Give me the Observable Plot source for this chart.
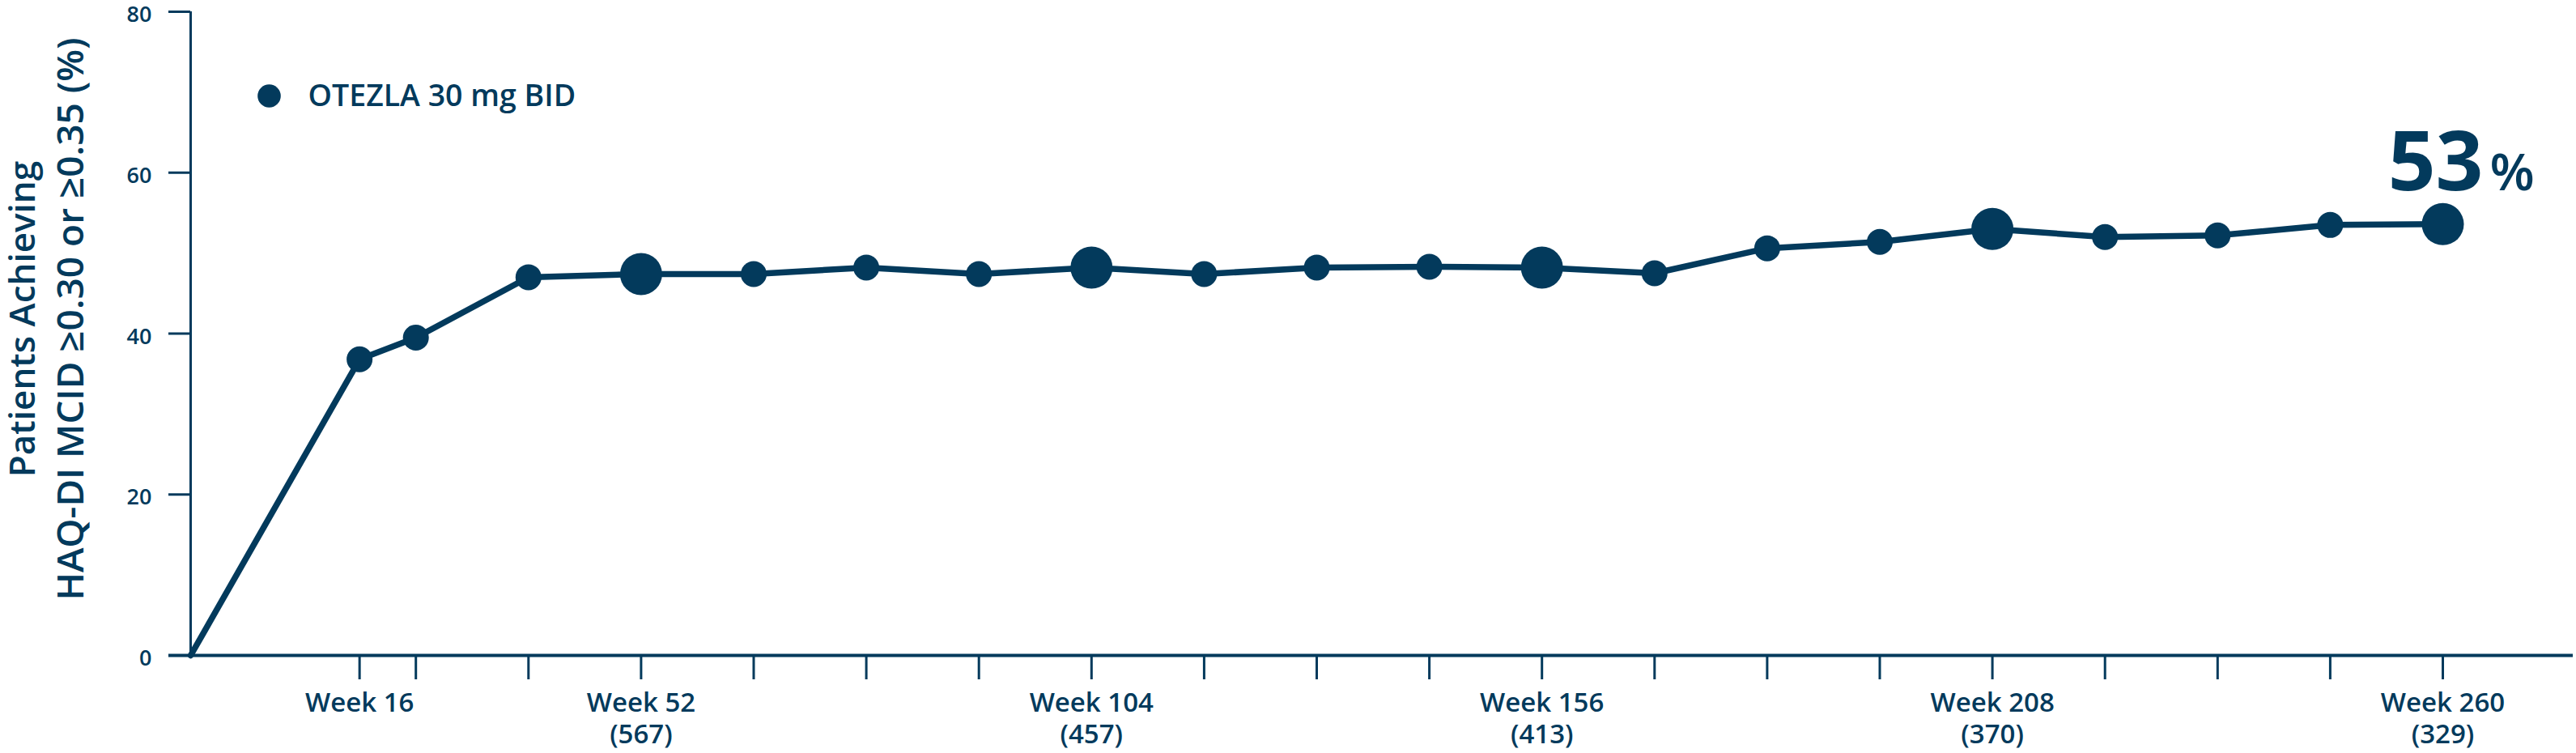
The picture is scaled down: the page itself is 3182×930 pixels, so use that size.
<!DOCTYPE html>
<html>
<head>
<meta charset="utf-8">
<script src="https://cdn.jsdelivr.net/npm/d3@7"></script>
<script src="https://cdn.jsdelivr.net/npm/@observablehq/plot@0.6"></script>
<style>
  html, body { margin: 0; padding: 0; background: #ffffff; }
  #chart svg { display: block; }
</style>
</head>
<body>
<div id="chart"></div>
<script>
// ---- data ----
const weeks    = [0, 16, 24, 40, 52, 65, 78, 91, 104, 117, 130, 143, 156, 169, 182, 195, 208, 221, 234, 247, 260];
const percents = [0, 36.8, 39.5, 47.0, 47.4, 47.4, 48.2, 47.4, 48.2, 47.4, 48.2, 48.3, 48.2, 47.5, 50.6, 51.4, 53.0, 52.0, 52.2, 53.5, 53.6];
const labeledWeeks   = [16, 52, 104, 156, 208, 260];
const patientNWeeks  = [52, 104, 156, 208, 260];
const patientNs      = [567, 457, 413, 370, 329];
const highlightWeeks = [52, 104, 156, 208, 260];
const yTicks = [0, 20, 40, 60, 80];
const seriesName = "OTEZLA 30 mg BID";
const yTitleLines = ["Patients Achieving", "HAQ-DI MCID \u22650.30 or \u22650.35 (%)"];
const finalValueText = "53";
const finalUnitText = "%";

// ---- chart ----
const navy = "#033a5c";
const font = "'Open Sans', 'Noto Sans', sans-serif";
const W = 3182, H = 930;
const mLeft = 235, mRight = 4, mTop = 14, mBottom = 121;

const data = weeks.map((w, i) => ({week: w, pct: percents[i]}));
const visits = data.filter(d => d.week > 0);
const big = visits.filter(d => highlightWeeks.includes(d.week));
const small = visits.filter(d => !highlightWeeks.includes(d.week));
const last = [data[data.length - 1]];

// the reference draws its visit axis unevenly: early visits are compressed,
// later visits (every 13 weeks) are evenly spaced
const stepPx = 139.1;
const xDomain = [0, 16, 24, 40, 52, 260, 275];
const xSteps  = [0, 1.5, 2, 3, 4, 20, 21.154];

function tickLabel(w) {
  if (!labeledWeeks.includes(w)) return "";
  const k = patientNWeeks.indexOf(w);
  return k >= 0 ? `Week ${w}\n(${patientNs[k]})` : `Week ${w}`;
}

const chart = Plot.plot({
  width: W,
  height: H,
  marginLeft: mLeft,
  marginRight: mRight,
  marginTop: mTop,
  marginBottom: mBottom,
  style: {fontFamily: font, fontWeight: 600, color: navy, background: "#ffffff", overflow: "visible"},
  x: {type: "linear", domain: xDomain, range: xSteps.map(s => mLeft + s * stepPx)},
  y: {domain: [0, 80]},
  marks: [
    // axis lines
    Plot.ruleY([0], {stroke: navy, strokeWidth: 4, insetLeft: -27}),
    Plot.ruleX([0], {y1: 0, y2: 80, stroke: navy, strokeWidth: 3}),
    // y ticks (no text)
    Plot.axisY({
      ticks: yTicks, tickSize: 27, stroke: navy, strokeWidth: 3,
      tickFormat: () => "", label: null
    }),
    // y tick labels (no tick lines)
    Plot.axisY({
      ticks: yTicks, tickSize: 0, tickPadding: 48, fill: navy, dy: 4,
      fontSize: 27, fontWeight: 600, label: null
    }),
    Plot.axisX({
      ticks: weeks.slice(1), tickSize: 30, tickPadding: 11, stroke: navy, fill: navy,
      strokeWidth: 3, fontSize: 33, fontWeight: 600, lineHeight: 1.2,
      tickFormat: tickLabel, label: null
    }),
    // series
    Plot.line(data, {x: "week", y: "pct", stroke: navy, strokeWidth: 7.5, strokeLinejoin: "round"}),
    Plot.dot(small, {x: "week", y: "pct", r: 16, fill: navy, stroke: null}),
    Plot.dot(big, {x: "week", y: "pct", r: 26, fill: navy, stroke: null}),
    // final value callout
    Plot.text(last, {x: "week", y: "pct", text: () => finalValueText, textAnchor: "end", lineAnchor: "bottom",
      dx: 50, dy: -42, fontSize: 103, fontWeight: 700, fill: navy}),
    Plot.text(last, {x: "week", y: "pct", text: () => finalUnitText, textAnchor: "start", lineAnchor: "bottom",
      dx: 58, dy: -42, fontSize: 64, fontWeight: 600, fill: navy}),
    // legend
    Plot.dot([seriesName], {frameAnchor: "top-left", dx: 97, dy: 104, r: 14.3, fill: navy}),
    Plot.text([seriesName], {frameAnchor: "top-left", text: d => d, dx: 145, dy: 104, textAnchor: "start",
      lineAnchor: "middle", fontSize: 37.5, fontWeight: 600, fill: navy}),
    // y axis title
    Plot.text([yTitleLines[0]], {frameAnchor: "left", text: d => d, rotate: -90, dx: -193, dy: -18,
      textAnchor: "middle", lineAnchor: "bottom", fontSize: 44, fontWeight: 600, fill: navy}),
    Plot.text([yTitleLines[1]], {frameAnchor: "left", text: d => d, rotate: -90, dx: -133, dy: -18,
      textAnchor: "middle", lineAnchor: "bottom", fontSize: 46, fontWeight: 600, fill: navy})
  ]
});
document.getElementById("chart").appendChild(chart);
</script>
</body>
</html>
